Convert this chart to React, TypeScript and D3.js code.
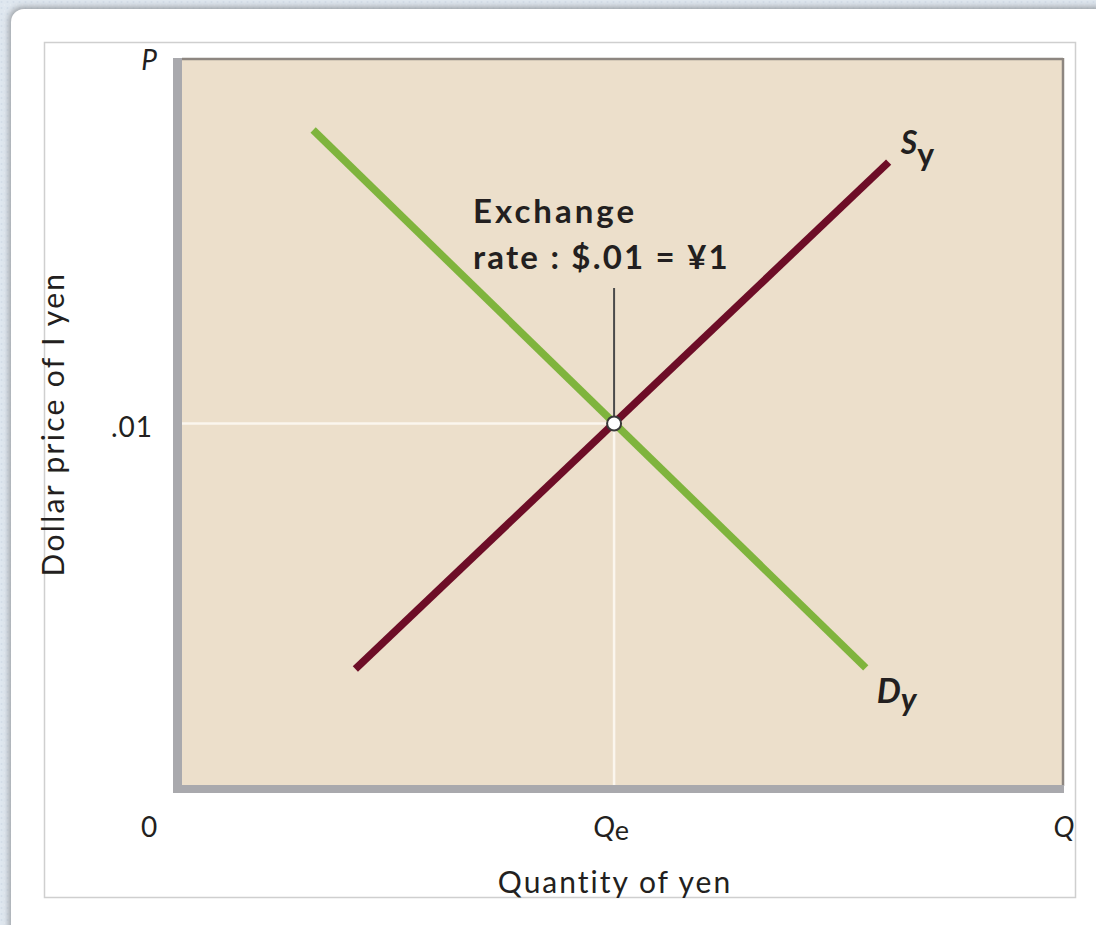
import React from "react";
import * as d3 from "d3";

const W = 1096;
const H = 925;

// Quantity axis (arbitrary units 0..100), price axis in dollars per yen
const quantityDomain = [0, 100];
const priceDomain = [0, 0.02];

const equilibrium = { q: 49.1, p: 0.01 };

const demandPoints = [
  { q: 14.9, p: 0.01812 },
  { q: 77.7, p: 0.00324 },
];
const supplyPoints = [
  { q: 19.7, p: 0.00321 },
  { q: 80.3, p: 0.01723 },
];

const yTickLabels = [{ p: 0.01, label: ".01" }];
const annotationLines = ["Exchange", "rate : $.01 = ¥1"];

export default function App() {
  const x = d3.scaleLinear().domain(quantityDomain).range([182, 1062]);
  const y = d3.scaleLinear().domain(priceDomain).range([785, 62]);
  const line = d3
    .line<{ q: number; p: number }>()
    .x((d) => x(d.q))
    .y((d) => y(d.p));

  const ex = x(equilibrium.q);
  const ey = y(equilibrium.p);
  const font = "Lato, 'Open Sans', sans-serif";
  const dark = "#231f20";

  const dEnd = demandPoints[1];
  const sEnd = supplyPoints[1];

  return (
    <svg
      width={W}
      height={H}
      style={{ position: "absolute", left: 0, top: 0, display: "block" }}
      fontFamily={font}
    >
      <defs>
        <filter id="sh" x="-5%" y="-5%" width="110%" height="110%">
          <feGaussianBlur stdDeviation="3" />
        </filter>
        <pattern id="bgp" width="6" height="6" patternUnits="userSpaceOnUse">
          <rect width="6" height="6" fill="#dfe7ef" />
          <circle cx="1.5" cy="2" r="1" fill="#d3dde8" />
          <circle cx="4.5" cy="5" r="0.8" fill="#e8eef4" />
        </pattern>
      </defs>
      <rect width={W} height={H} fill="url(#bgp)" />
      {/* card shadow and card */}
      <rect x={9} y={7} width={1120} height={960} rx={14} fill="#9a9ea3" filter="url(#sh)" />
      <rect x={11} y={9} width={1120} height={960} rx={13} fill="#ffffff" />
      {/* inner frame */}
      <rect x={44.5} y={42.5} width={1031} height={855} fill="none" stroke="#cfcfcf" strokeWidth={1.5} />

      {/* plot background */}
      <rect x={182} y={58} width={882} height={728} fill="#ede0cd" />
      <rect x={182} y={60} width={880} height={725} fill="#ecdfcb" />
      {/* top & right dark edge */}
      <line x1={182} y1={59} x2={1063} y2={59} stroke="#8d8680" strokeWidth={2.5} />
      <line x1={1063} y1={58} x2={1063} y2={786} stroke="#8d8680" strokeWidth={2.5} />
      {/* gray axes */}
      <rect x={173} y={58} width={9} height={735} fill="#a9a9ad" />
      <rect x={173} y={785} width={891} height={8} fill="#a9a9ad" />

      {/* white reference lines */}
      <line x1={x(quantityDomain[0])} y1={ey} x2={ex} y2={ey} stroke="#fbf6ee" strokeWidth={2.5} />
      <line x1={ex} y1={ey} x2={ex} y2={y(priceDomain[0])} stroke="#fbf6ee" strokeWidth={2.5} />

      {/* curves */}
      <path d={line(demandPoints) || ""} stroke="#7fb43d" strokeWidth={7.5} fill="none" />
      <path d={line(supplyPoints) || ""} stroke="#6d0d27" strokeWidth={7.5} fill="none" />

      {/* annotation pointer */}
      <line x1={ex} y1={288} x2={ex} y2={ey - 6} stroke="#4a4a4a" strokeWidth={2} />
      <circle cx={ex} cy={ey} r={7} fill="#ffffff" stroke="#3a3a3a" strokeWidth={2} />

      {/* annotation text */}
      <text x={473} y={223} fontSize={33} fontWeight={700} fill={dark} letterSpacing={3}>
        {annotationLines[0]}
      </text>
      <text x={473} y={269} fontSize={33} fontWeight={700} fill={dark} letterSpacing={2.2}>
        {annotationLines[1]}
      </text>

      {/* curve labels */}
      <text x={x(sEnd.q) + 12} y={y(sEnd.p) - 8} fontSize={32} fontStyle="italic" fontWeight={700} fill={dark}>
        S
        <tspan dy={12} fontSize={32} fontStyle="normal">y</tspan>
      </text>
      <text x={x(dEnd.q) + 11} y={y(dEnd.p) + 35} fontSize={34} fontStyle="italic" fontWeight={700} fill={dark}>
        D
        <tspan dy={8} fontSize={32}>y</tspan>
      </text>

      {/* axis letters */}
      <text x={149} y={70} fontSize={28} fontStyle="italic" fill={dark} textAnchor="middle">P</text>
      <text x={149} y={837} fontSize={28} fill={dark} textAnchor="middle">0</text>
      <text x={1064} y={837} fontSize={28} fontStyle="italic" fill={dark} textAnchor="middle">Q</text>
      <text x={ex - 3} y={837} fontSize={29} fontStyle="italic" fill={dark} textAnchor="middle">
        Q<tspan dy={3} fontSize={27} fontStyle="normal">e</tspan>
      </text>
      {yTickLabels.map((t) => (
        <text key={t.label} x={153} y={y(t.p) + 13} fontSize={28} fill={dark} textAnchor="end" letterSpacing={1}>
          {t.label}
        </text>
      ))}

      {/* axis titles */}
      <text x={615} y={893} fontSize={30} fill={dark} textAnchor="middle" letterSpacing={2}>
        Quantity of yen
      </text>
      <text
        transform={`translate(64, ${424}) rotate(-90)`}
        fontSize={30}
        fill={dark}
        textAnchor="middle"
        letterSpacing={2.3}
      >
        Dollar price of I yen
      </text>
    </svg>
  );
}
